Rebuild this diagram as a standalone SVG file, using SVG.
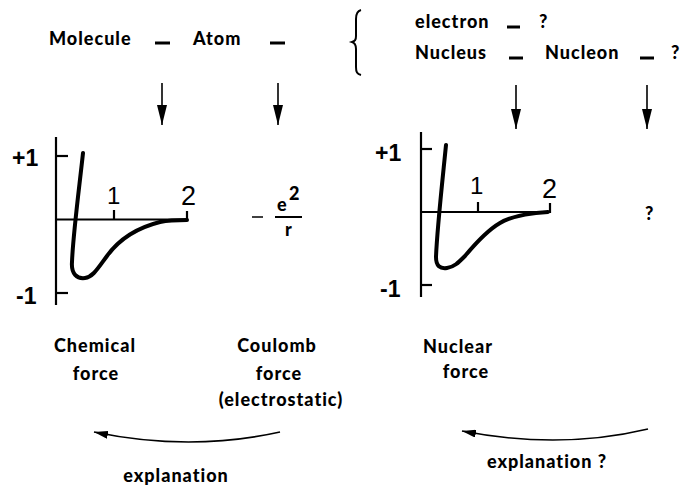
<svg xmlns="http://www.w3.org/2000/svg" width="682" height="487" viewBox="0 0 682 487">
<style>
.t{font-family:Lato,"Open Sans","Liberation Sans",sans-serif;font-weight:900;font-size:18px;letter-spacing:1px;fill:#000}
.n{font-family:"Liberation Sans",Arial,sans-serif;fill:#000}
.ax{fill:none;stroke:#000;stroke-width:2.2}
.cv{fill:none;stroke:#000;stroke-width:4;stroke-linecap:round;stroke-linejoin:round}
.ar{fill:none;stroke:#000;stroke-width:1.6}
.dash{stroke:#000;stroke-width:3}
</style>
<defs>
<marker id="ah" viewBox="0 0 20 10" refX="20" refY="5" markerWidth="20" markerHeight="10" markerUnits="userSpaceOnUse" orient="auto">
<path d="M0,0 L20,5 L0,10 Z" fill="#000"/>
</marker>
<marker id="ah2" viewBox="0 0 14 8" refX="14" refY="4" markerWidth="14" markerHeight="8" markerUnits="userSpaceOnUse" orient="auto">
<path d="M0,0 L14,4 L0,8 Z" fill="#000"/>
</marker>
</defs>
<g id="top-left">
<text class="t" x="49" y="45">Molecule</text>
<line class="dash" x1="155" y1="43" x2="170" y2="43"/>
<text class="t" x="193" y="45">Atom</text>
<line class="dash" x1="270" y1="43" x2="285" y2="43"/>
</g>
<g id="brace">
<path d="M361,10 C357,11 356,14 356,19 L356,36 C356,40 355,41 352,42 C355,43 356,45 356,49 L356,67 C356,72 357,74 361,75" fill="none" stroke="#000" stroke-width="2"/>
</g>
<g id="top-right">
<text class="t" x="415" y="28">electron</text>
<line class="dash" x1="507" y1="27" x2="520" y2="27"/>
<text class="t" x="539" y="28">?</text>
<text class="t" x="415" y="59">Nucleus</text>
<line class="dash" x1="509" y1="58" x2="523" y2="58"/>
<text class="t" x="545" y="59">Nucleon</text>
<line class="dash" x1="640" y1="58" x2="654" y2="58"/>
<text class="t" x="671" y="59">?</text>
</g>
<g id="connectors">
<line class="ar" x1="162" y1="83" x2="162" y2="125" marker-end="url(#ah)"/>
<line class="ar" x1="278" y1="83" x2="278" y2="125" marker-end="url(#ah)"/>
<line class="ar" x1="516" y1="85" x2="516" y2="129" marker-end="url(#ah)"/>
<line class="ar" x1="647" y1="85" x2="647" y2="129" marker-end="url(#ah)"/>
<path class="ar" d="M280,432 Q190,452 94,432" marker-end="url(#ah2)"/>
<path class="ar" d="M648,429 Q560,450 462,431" marker-end="url(#ah2)"/>
</g>
<g id="graph-chemical">
<line class="ax" x1="56" y1="137" x2="56" y2="305"/>
<line class="ax" x1="56" y1="156" x2="68" y2="156"/>
<line class="ax" x1="56" y1="293" x2="68" y2="293"/>
<path class="ax" d="M56,219.5 L187,219.5 L187,211" stroke-width="1.8"/>
<line class="ax" x1="114" y1="210" x2="114" y2="219" stroke-width="1.5"/>
<text class="n" x="12" y="166" font-size="23" font-weight="bold">+1</text>
<text class="n" x="16" y="304" font-size="23" font-weight="bold">-1</text>
<text class="n" x="107" y="204" font-size="24">1</text>
<text class="n" x="181" y="205" font-size="27">2</text>
<path class="cv" d="M83,153 C79,190 73,235 72,262 C71,274 77,279 85,278 C93,277 98,268 107,256 C120,238 140,227 160,222 C170,220 180,220 187,220"/>
</g>
<g id="coulomb-formula">
<line x1="252" y1="217" x2="263" y2="217" stroke="#000" stroke-width="1.5"/>
<line x1="275" y1="217" x2="302" y2="217" stroke="#000" stroke-width="2"/>
<text class="t" x="277" y="211" font-size="18" letter-spacing="0">e</text>
<text class="t" x="289" y="200" font-size="11" letter-spacing="0">2</text>
<text class="t" x="285" y="236" font-size="17" letter-spacing="0">r</text>
</g>
<text class="t" x="645" y="220" font-size="15">?</text>
<g id="graph-nuclear">
<line class="ax" x1="421" y1="132" x2="421" y2="297"/>
<line class="ax" x1="421" y1="149" x2="432" y2="149"/>
<line class="ax" x1="421" y1="285" x2="432" y2="285"/>
<path class="ax" d="M421,212 L550,212 L550,203" stroke-width="1.8"/>
<line class="ax" x1="478" y1="202" x2="478" y2="212" stroke-width="1.5"/>
<text class="n" x="375" y="161" font-size="23" font-weight="bold">+1</text>
<text class="n" x="380" y="297" font-size="23" font-weight="bold">-1</text>
<text class="n" x="470" y="194" font-size="24">1</text>
<text class="n" x="542" y="198" font-size="27">2</text>
<path class="cv" d="M446,145 C442,185 437,230 436,257 C436,266 440,269 447,268 C454,267 458,263 465,256 C475,244 488,230 500,223 C512,216 530,213 548,212"/>
</g>
<g id="label-chemical">
<text class="t" x="95" y="352" text-anchor="middle">Chemical</text>
<text class="t" x="96" y="380" text-anchor="middle">force</text>
</g>
<g id="label-coulomb">
<text class="t" x="277" y="352" text-anchor="middle">Coulomb</text>
<text class="t" x="279" y="380" text-anchor="middle">force</text>
<text class="t" x="281" y="406" text-anchor="middle">(electrostatic)</text>
</g>
<g id="label-nuclear">
<text class="t" x="458" y="353" text-anchor="middle">Nuclear</text>
<text class="t" x="466" y="378" text-anchor="middle">force</text>
</g>
<text class="t" x="176" y="482" text-anchor="middle">explanation</text>
<text class="t" x="547" y="468" text-anchor="middle">explanation ?</text>
</svg>
